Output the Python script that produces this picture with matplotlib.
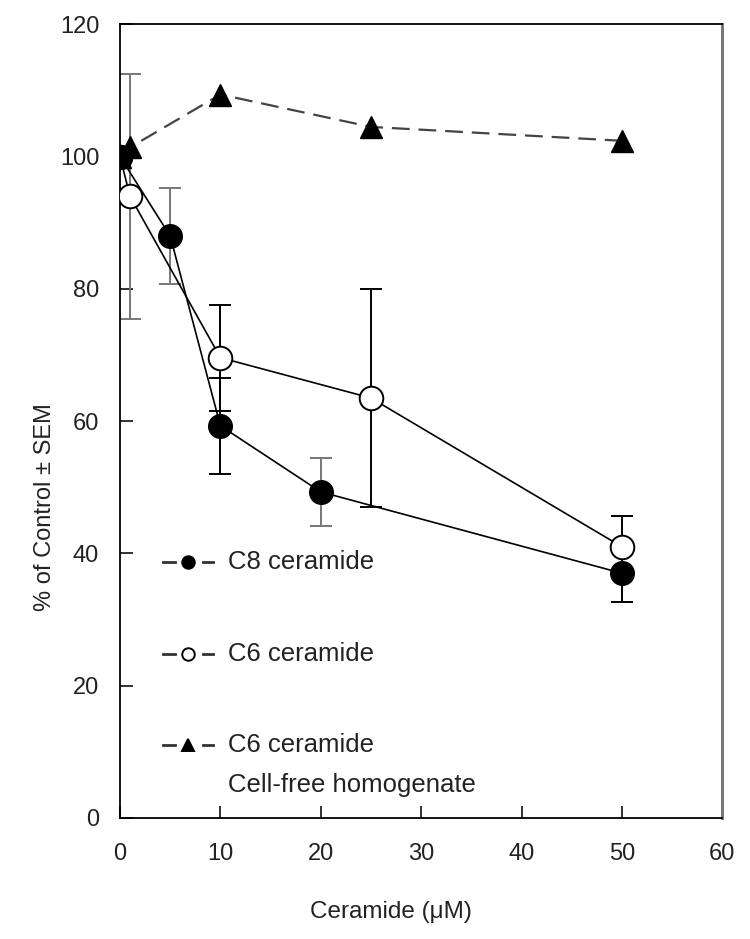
import numpy as np
import matplotlib
matplotlib.use("Agg")
import matplotlib.pyplot as plt

plt.rcParams['font.family'] = ['Liberation Sans', 'DejaVu Sans']

# C8 ceramide (intact cells)
conc_c8 = [0, 5, 10, 20, 50]
c8 = [100, 88, 59.3, 49.3, 37]
c8_err = [0, 7.3, 7.3, 5.1, 4.3]

# C6 ceramide (intact cells)
conc_c6 = [0, 1, 10, 25, 50]
c6 = [100, 94, 69.6, 63.5, 41]
c6_err = [0, 18.5, 8, 16.5, 4.6]

# C6 ceramide, cell-free homogenate
conc_hom = [0, 1, 10, 25, 50]
hom = [100, 101.4, 109.4, 104.5, 102.4]

legend_labels = ["C8 ceramide", "C6 ceramide", "C6 ceramide"]
legend_note = "Cell-free homogenate"

# some error bars in the scan are lighter than others
c8_ecol = ['black', '#777777', 'black', '#777777', 'black']
c6_ecol = ['black', '#777777', 'black', 'black', 'black']

fig = plt.figure(figsize=(7.5, 9.39), dpi=100)
ax = fig.add_axes([0.16, 0.129, 0.803, 0.845])


def draw_err(x, y, e, cols):
    for xi, yi, ei, c in zip(x, y, e, cols):
        if ei <= 0:
            continue
        ax.errorbar([xi], [yi], yerr=[ei], fmt='none', ecolor=c,
                    elinewidth=1.4, capsize=8, capthick=1.4, zorder=2)


draw_err(conc_c8, c8, c8_err, c8_ecol)
draw_err(conc_c6, c6, c6_err, c6_ecol)

# homogenate series, dashed
ax.plot(conc_hom, hom, color='#444444', lw=1.6, dashes=(8, 4), zorder=3)
ax.plot(conc_hom, hom, ls='none', marker='^', ms=16, color='black', zorder=5)

ax.plot(conc_c6, c6, color='black', lw=1.2, zorder=3)
ax.plot(conc_c6, c6, ls='none', marker='o', ms=17, mfc='white', mec='black',
        mew=1.4, zorder=4)

ax.plot(conc_c8, c8, color='black', lw=1.2, zorder=3)
ax.plot(conc_c8, c8, ls='none', marker='o', ms=17, color='black', zorder=4)

ax.set_xlim(0, 60)
ax.set_ylim(0, 120)
ax.set_xticks(np.arange(0, 61, 10))
ax.set_yticks(np.arange(0, 121, 20))
ax.tick_params(direction='in', length=9, width=1.3, labelsize=17, colors='#222222')
ax.tick_params(axis='y', pad=15)
ax.tick_params(axis='x', pad=18)
for s in ax.spines.values():
    s.set_linewidth(1.3)
ax.spines['right'].set_color('#777777')
ax.spines['right'].set_linewidth(2.2)

ax.set_xlabel("Ceramide (\u03bcM)", fontsize=17.5, color='#222222')
ax.xaxis.set_label_coords(0.45, -0.1185)
ax.xaxis.label.set_va('center')
ax.set_ylabel("% of Control \u00b1 SEM", fontsize=17, color='#222222')
ax.yaxis.set_label_coords(-0.125, 0.392)
ax.yaxis.label.set_va('center')

# hand drawn legend, as in the original figure
leg_y = [0.323, 0.207, 0.092]
markers = [dict(marker='o', mfc='black', mec='black'),
           dict(marker='o', mfc='white', mec='black'),
           dict(marker='^', mfc='black', mec='black')]
for yy, lab, mk in zip(leg_y, legend_labels, markers):
    ax.plot([0.071, 0.091], [yy, yy], color='#333333', lw=2,
            transform=ax.transAxes, clip_on=False)
    ax.plot([0.138, 0.155], [yy, yy], color='#333333', lw=2,
            transform=ax.transAxes, clip_on=False)
    ax.plot([0.113], [yy], ls='none', ms=9, mew=1.4, transform=ax.transAxes,
            clip_on=False, **mk)
    ax.text(0.180, yy, lab, transform=ax.transAxes, fontsize=18.5,
            va='center', ha='left', color='#222222')
ax.text(0.180, 0.0416, legend_note, transform=ax.transAxes, fontsize=18.5,
        va='center', ha='left', color='#222222')

fig.savefig("out.png", dpi=100)
